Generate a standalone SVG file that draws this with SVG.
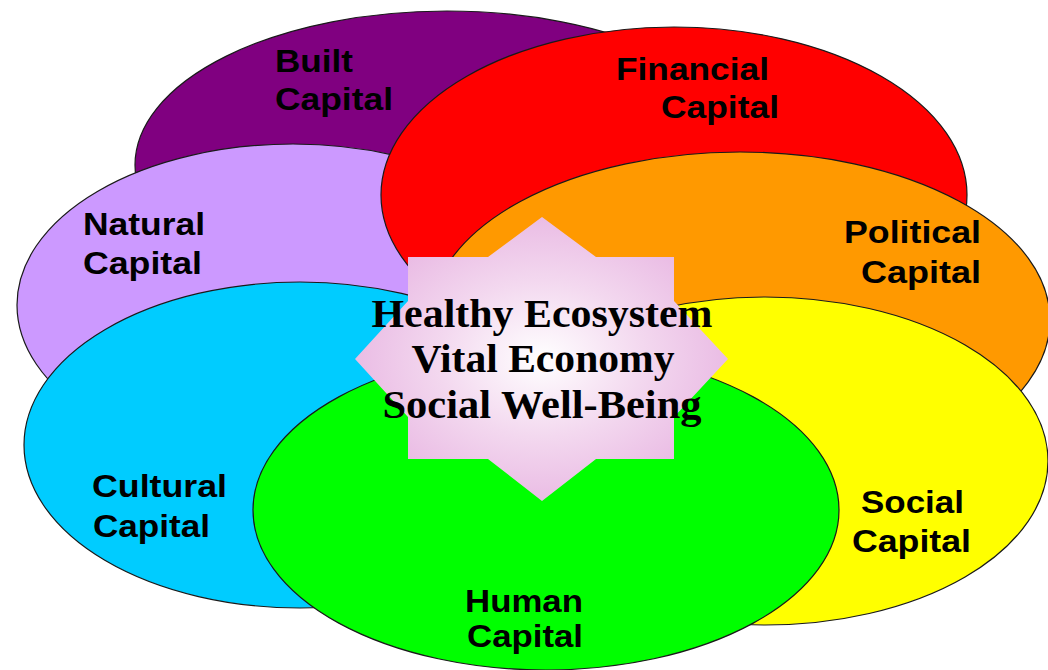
<svg xmlns="http://www.w3.org/2000/svg" width="1048" height="670" viewBox="0 0 1048 670">
  <style>
    .ell { stroke: #1a1a1a; stroke-width: 1.2; }
    .lbl { font-family: "Liberation Sans", Arial, sans-serif; font-weight: bold; font-size: 31px; fill: #000; }
    .ctr { font-family: "Liberation Serif", "Times New Roman", serif; font-weight: bold; font-size: 39px; fill: #000; text-anchor: middle; }
  </style>
  <defs>
    <radialGradient id="starGrad" cx="0.5" cy="0.5" r="0.55">
      <stop offset="0" stop-color="#ffffff"/>
      <stop offset="0.5" stop-color="#f3d8ef"/>
      <stop offset="1" stop-color="#e8b6e2"/>
    </radialGradient>
  </defs>
  <rect x="0" y="0" width="1048" height="670" fill="#ffffff"/>

  <g id="built">
    <ellipse class="ell" cx="447" cy="165" rx="312" ry="154" fill="#800080"/>
  </g>
  <g id="natural">
    <ellipse class="ell" cx="293" cy="305" rx="276" ry="161" fill="#cc99ff"/>
  </g>
  <g id="financial">
    <ellipse class="ell" cx="674" cy="195" rx="293" ry="168" fill="#ff0000"/>
  </g>
  <g id="cultural">
    <ellipse class="ell" cx="300" cy="445" rx="276" ry="163" fill="#00ccff"/>
  </g>
  <g id="political">
    <ellipse class="ell" cx="740" cy="320" rx="310" ry="168" fill="#ff9900"/>
  </g>
  <g id="social">
    <ellipse class="ell" cx="765" cy="461" rx="283" ry="164" fill="#ffff00"/>
  </g>
  <g id="human">
    <ellipse class="ell" cx="546" cy="510" rx="293" ry="160" fill="#00ff00"/>
  </g>

  <g id="labels">
    <text class="lbl" x="275" y="72" textLength="78" lengthAdjust="spacingAndGlyphs">Built</text>
    <text class="lbl" x="275" y="110" textLength="118" lengthAdjust="spacingAndGlyphs">Capital</text>
    <text class="lbl" x="616" y="80" textLength="153" lengthAdjust="spacingAndGlyphs">Financial</text>
    <text class="lbl" x="661" y="118" textLength="118" lengthAdjust="spacingAndGlyphs">Capital</text>
    <text class="lbl" x="83" y="235" textLength="122" lengthAdjust="spacingAndGlyphs">Natural</text>
    <text class="lbl" x="83" y="274" textLength="119" lengthAdjust="spacingAndGlyphs">Capital</text>
    <text class="lbl" x="844" y="243" textLength="137" lengthAdjust="spacingAndGlyphs">Political</text>
    <text class="lbl" x="861" y="283" textLength="120" lengthAdjust="spacingAndGlyphs">Capital</text>
    <text class="lbl" x="92" y="497" textLength="135" lengthAdjust="spacingAndGlyphs">Cultural</text>
    <text class="lbl" x="93" y="537" textLength="117" lengthAdjust="spacingAndGlyphs">Capital</text>
    <text class="lbl" x="861" y="513" textLength="103" lengthAdjust="spacingAndGlyphs">Social</text>
    <text class="lbl" x="852" y="552" textLength="119" lengthAdjust="spacingAndGlyphs">Capital</text>
    <text class="lbl" x="465" y="612" textLength="118" lengthAdjust="spacingAndGlyphs">Human</text>
    <text class="lbl" x="467" y="647" textLength="116" lengthAdjust="spacingAndGlyphs">Capital</text>
  </g>

  <g id="center">
    <polygon fill="url(#starGrad)" points="542,217 596,257 674,257 674,301 728,359 674,417 674,459 596,459 542,501 488,459 408,459 408,417 355,359 408,301 408,257 488,257"/>
    <text class="ctr" x="542" y="327" textLength="341" lengthAdjust="spacingAndGlyphs">Healthy Ecosystem</text>
    <text class="ctr" x="543" y="372" textLength="263" lengthAdjust="spacingAndGlyphs">Vital Economy</text>
    <text class="ctr" x="542" y="418" textLength="319" lengthAdjust="spacingAndGlyphs">Social Well-Being</text>
  </g>

  <g id="connectors"/>
</svg>
